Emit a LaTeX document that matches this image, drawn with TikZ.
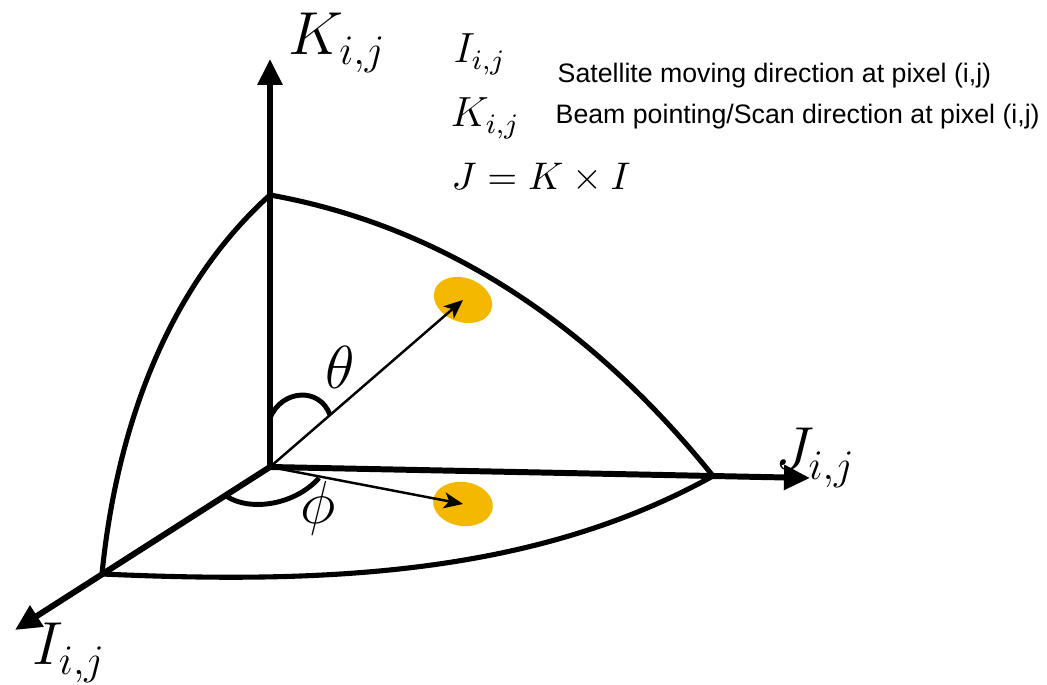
\documentclass[tikz,border=0pt]{standalone}
\usepackage{fontspec}
\usepackage{xcolor}
\usepackage{tikz}
\usetikzlibrary{shapes.geometric,arrows.meta,positioning,calc}
\newfontfamily\notefont{Liberation Sans}
\definecolor{axisink}{HTML}{000000}
\definecolor{spotgold}{HTML}{F5B800}
\tikzset{
  axis/.style={-{Triangle[length=2.6mm,width=2.4mm]},line width=1.7pt,draw=axisink},
  rim/.style={line width=1.45pt,draw=axisink},
  beam/.style={-{Stealth[length=1.9mm,width=1.6mm,inset=0.5mm]},line width=0.7pt,draw=axisink},
  angarc/.style={line width=1.4pt,draw=axisink},
  spot/.style={ellipse,fill=spotgold,minimum width=6mm,minimum height=4.4mm,inner sep=0pt},
  axlabel/.style={font=\LARGE,inner sep=0pt,anchor=base west},
  symlabel/.style={font=\large,inner sep=0pt,anchor=base west},
  note/.style={font=\notefont\fontsize{7.6}{9}\selectfont,inner sep=0pt,anchor=base west},
}

\begin{document}
\begin{tikzpicture}
\useasboundingbox (-2.70,-2.18) rectangle (7.77,4.67);
\coordinate (O) at (0,0);
\coordinate (Ktip) at (0,4.08);
\coordinate (Jtip) at (5.40,-0.11);
\coordinate (Itip) at (-2.55,-1.63);
\coordinate (Ktop) at (0,2.72);
\coordinate (Jrim) at (4.43,-0.09);
\coordinate (Irim) at (-1.68,-1.07);
\node[spot,rotate=-20] (spotT) at (1.93,1.67) {};
\node[spot,rotate=-8] (spotB) at (1.93,-0.37) {};
\draw[rim] (Ktop) .. controls (2.0,2.36) and (3.43,1.15) .. (Jrim);
\draw[rim] (Ktop) .. controls (-1.0,1.82) and (-1.53,0.44) .. (Irim);
\draw[rim] (Irim) .. controls (0.52,-1.17) and (2.63,-1.09) .. (Jrim);
\draw[axis] (O) -- (Ktip);
\draw[axis] (O) -- (Jtip);
\draw[axis] (O) -- (Itip);
\draw[beam] (O) -- (spotT.center);
\draw[beam] (O) -- (spotB.center);
\draw[angarc] (0,0.49) .. controls (0.12,0.78) and (0.5,0.8) .. (0.6,0.52);
\draw[angarc] (-0.44,-0.29) .. controls (-0.2,-0.45) and (0.25,-0.38) .. (0.49,-0.11);
\node[axlabel] (Klab) at (0.18,4.12) {$K_{i,j}$};
\node[axlabel] (Jlab) at (5.05,-0.03) {$J_{i,j}$};
\node[axlabel] (Ilab) at (-2.38,-1.98) {$I_{i,j}$};
\node[font=\LARGE] (thetalab) at (0.70,1.00) {$\theta$};
\node[font=\LARGE] (philab) at (0.48,-0.41) {$\phi$};
\node[symlabel] (legI) at (1.83,4.04) {$I_{i,j}$};
\node[symlabel] (legK) at (1.80,3.40) {$K_{i,j}$};
\node[symlabel,font=\fontsize{11}{13}\selectfont] (legJ) at (1.81,2.77) {$J = K \times I$};
\node[note] (noteI) at (2.87,3.84) {Satellite moving direction at pixel (i,j)};
\node[note] (noteK) at (2.85,3.43) {Beam pointing/Scan direction at pixel (i,j)};
\end{tikzpicture}
\end{document}
